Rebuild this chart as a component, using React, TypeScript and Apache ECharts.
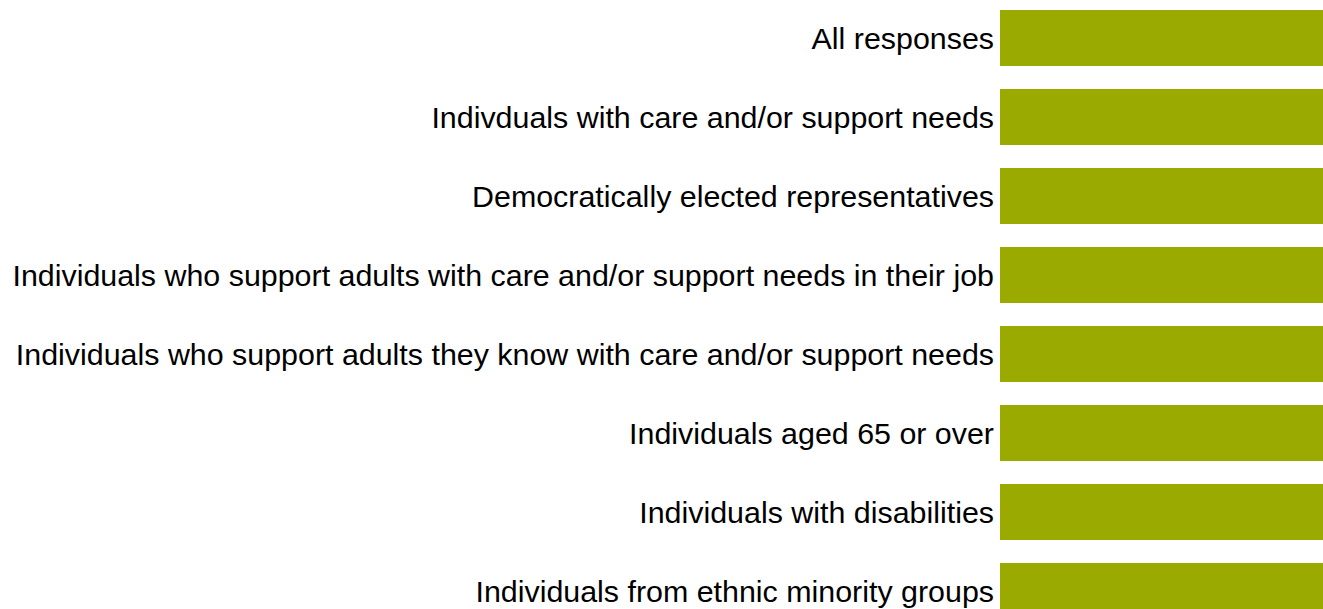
import React, { useEffect, useRef } from "react";
import * as echarts from "echarts";

const categories = [
  "All responses",
  "Indivduals with care and/or support needs",
  "Democratically elected representatives",
  "Individuals who support adults with care and/or support needs in their job",
  "Individuals who support adults they know with care and/or support needs",
  "Individuals aged 65 or over",
  "Individuals with disabilities",
  "Individuals from ethnic minority groups",
];
const values = [100, 100, 100, 100, 100, 100, 100, 100];

export default function App() {
  const ref = useRef<HTMLDivElement>(null);
  useEffect(() => {
    if (!ref.current) return;
    const chart = echarts.init(ref.current, null, { renderer: "svg" });
    chart.setOption({
      animation: false,
      grid: {
        left: 1000,
        right: 0,
        top: 0.5,
        height: 632,
        containLabel: false,
        outerBoundsMode: "none",
      },
      xAxis: {
        type: "value",
        min: 0,
        max: 100,
        show: false,
      },
      yAxis: {
        type: "category",
        data: categories,
        inverse: true,
        axisLine: { show: false },
        axisTick: { show: false },
        axisLabel: {
          color: "#000",
          fontFamily: "Liberation Sans, Arial, sans-serif",
          fontSize: 30.4,
          margin: 6,
        },
      },
      series: [
        {
          type: "bar",
          data: values,
          barCategoryGap: "29%",
          itemStyle: { color: "#9AAA00" },
        },
      ],
    });
    return () => chart.dispose();
  }, []);
  return (
    <div
      ref={ref}
      style={{ position: "fixed", left: 0, top: -2, width: 1323, height: 640, background: "#fff" }}
    />
  );
}
